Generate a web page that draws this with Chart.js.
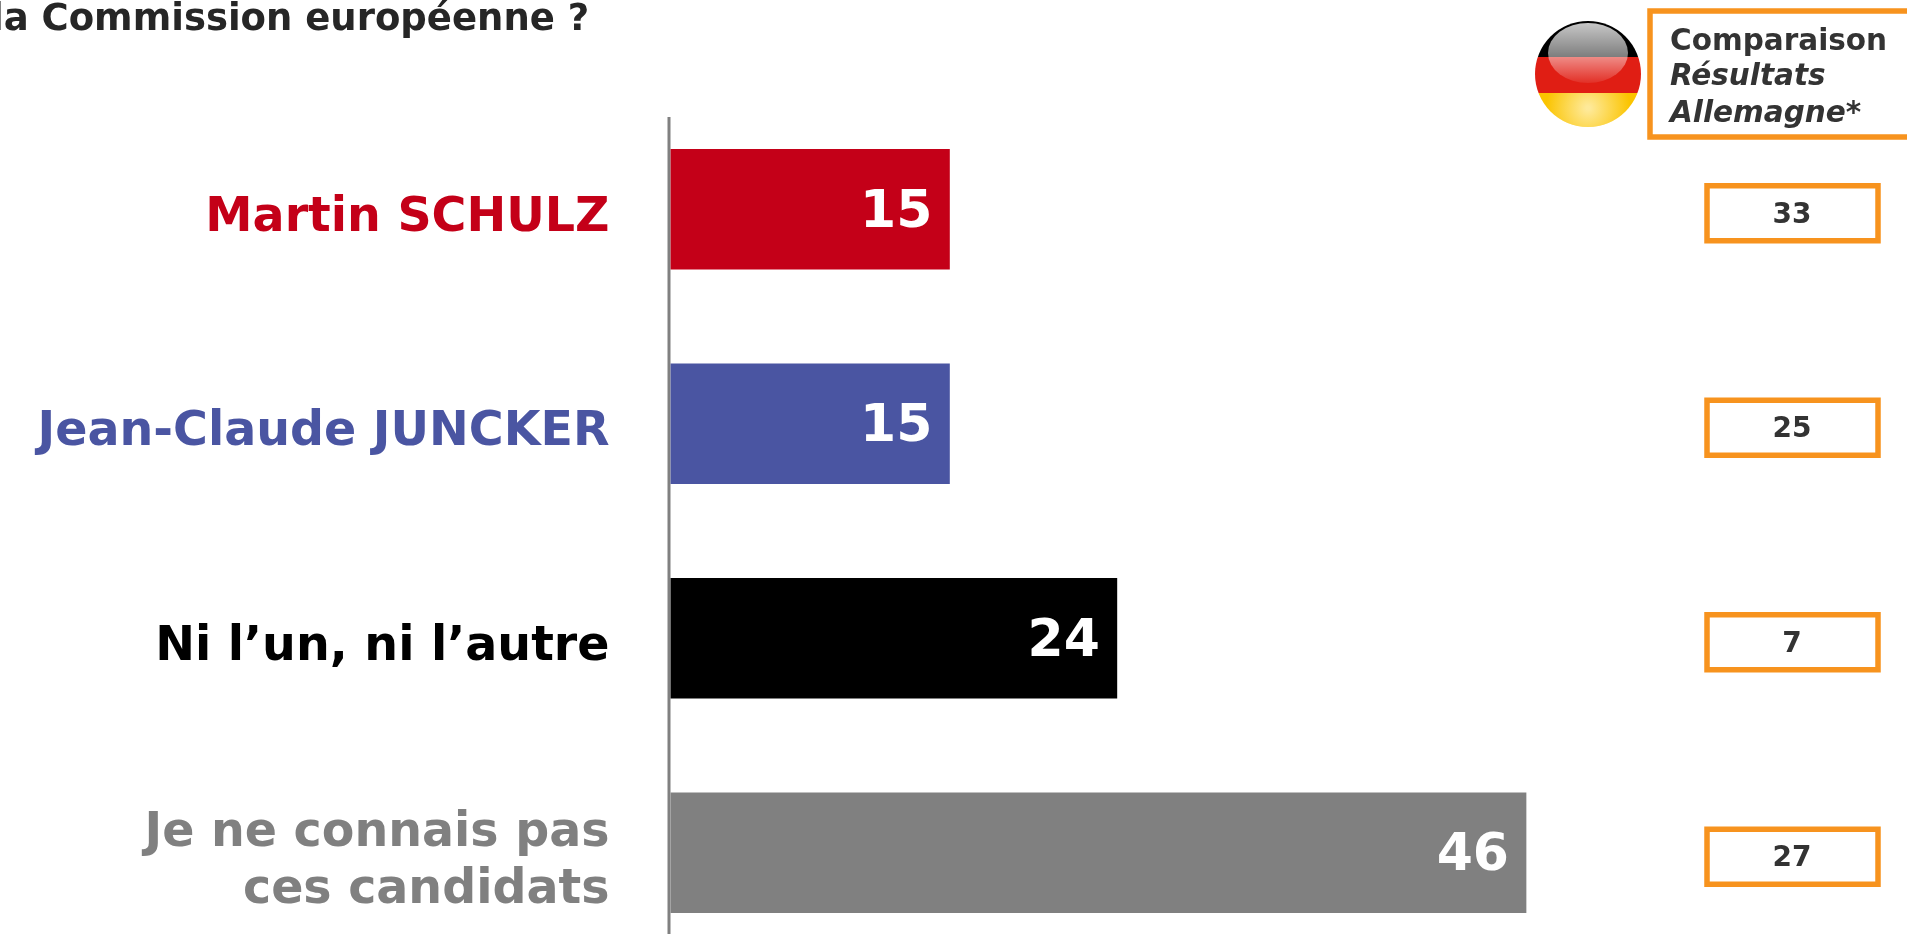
<!DOCTYPE html>
<html lang="fr">
<head>
<meta charset="utf-8">
<title>Commission européenne</title>
<script src="https://cdn.jsdelivr.net/npm/chart.js@4/dist/chart.umd.min.js"></script>
<style>
    html, body { margin: 0; padding: 0; background: #fff; overflow: hidden; }
    canvas { display: block; }
</style>
</head>
<body>
<canvas id="myChart" width="1907" height="960"></canvas>
<script>
const categories = ['Martin SCHULZ', 'Jean-Claude JUNCKER', 'Ni l’un, ni l’autre', ['Je ne connais pas', 'ces candidats']];
const values = [15, 15, 24, 46];
const germanyValues = [33, 25, 7, 27];
const barColors = ['#C40018', '#4A55A2', '#000000', '#808080'];
const headerLines = ['Comparaison', 'Résultats', 'Allemagne*'];
const titleText = 'la Commission européenne ?';

const fontName = '"DejaVu Sans", Verdana, sans-serif';
const orange = '#F7931E';

// grey line left of the bars, runs off the bottom of the page
const axisLine = {
    id: 'axisLine',
    beforeDatasetsDraw(chart) {
        let ctx = chart.ctx;
        let x = chart.scales.x.getPixelForValue(0);
        ctx.save();
        ctx.strokeStyle = '#808080';
        ctx.lineWidth = 3;
        ctx.beginPath();
        ctx.moveTo(x - 1.5, 117);
        ctx.lineTo(x - 1.5, 934);
        ctx.stroke();
        ctx.restore();
    }
};

// white numbers inside the end of each bar
const barValues = {
    id: 'barValues',
    afterDatasetsDraw(chart) {
        let ctx = chart.ctx;
        ctx.save();
        ctx.fillStyle = '#fff';
        ctx.font = 'bold 52px ' + fontName;
        ctx.textAlign = 'right';
        ctx.textBaseline = 'middle';
        chart.getDatasetMeta(0).data.forEach(function(bar, i) {
            ctx.fillText(values[i], bar.x - 17, bar.y + 4);
        });
        ctx.restore();
    }
};

// orange boxes on the right with the German results
const sideBoxes = {
    id: 'sideBoxes',
    afterDraw(chart) {
        let ctx = chart.ctx;
        ctx.save();
        ctx.strokeStyle = orange;
        ctx.lineWidth = 5.5;
        ctx.fillStyle = '#333';
        ctx.font = 'bold 28px ' + fontName;
        ctx.textAlign = 'center';
        ctx.textBaseline = 'middle';
        germanyValues.forEach(function(v, i) {
            let y = chart.scales.y.getPixelForValue(i) + 4;
            ctx.strokeRect(1707, y - 27.5, 171, 55);
            ctx.fillText(v, 1792, y + 2);
        });

        // header box, its right side is outside the page
        ctx.strokeRect(1650, 11, 270, 126);
        ctx.textAlign = 'left';
        ctx.textBaseline = 'alphabetic';
        ctx.font = 'bold 29.5px ' + fontName;
        ctx.fillText(headerLines[0], 1670, 50);
        ctx.font = 'italic bold 29.5px ' + fontName;
        ctx.fillText(headerLines[1], 1670, 85);
        ctx.fillText(headerLines[2], 1670, 122);

        // title is cut by the left edge
        ctx.fillStyle = '#262626';
        ctx.font = 'bold 37px ' + fontName;
        ctx.fillText(titleText, -9, 30);
        ctx.restore();
    }
};

// round german flag
const flag = {
    id: 'flag',
    afterDraw(chart) {
        let ctx = chart.ctx;
        let cx = 1588, cy = 74, r = 53;
        ctx.save();
        ctx.beginPath();
        ctx.arc(cx, cy, r, 0, Math.PI * 2);
        ctx.clip();
        ctx.fillStyle = '#000';
        ctx.fillRect(cx - r, cy - r, r * 2, 36);
        ctx.fillStyle = '#E01E14';
        ctx.fillRect(cx - r, cy - r + 36, r * 2, 36);
        ctx.fillStyle = '#FBC400';
        ctx.fillRect(cx - r, cy - r + 72, r * 2, 34);

        // lower glow
        let glow = ctx.createRadialGradient(cx, cy + 34, 2, cx, cy + 34, 42);
        glow.addColorStop(0, 'rgba(255,240,180,0.85)');
        glow.addColorStop(1, 'rgba(255,240,180,0)');
        ctx.fillStyle = glow;
        ctx.fillRect(cx - r, cy + 19, r * 2, 34);

        // gloss on top
        let gloss = ctx.createLinearGradient(0, cy - 51, 0, cy + 9);
        gloss.addColorStop(0, 'rgba(255,255,255,0.78)');
        gloss.addColorStop(0.55, 'rgba(255,255,255,0.5)');
        gloss.addColorStop(1, 'rgba(255,255,255,0.08)');
        ctx.fillStyle = gloss;
        ctx.beginPath();
        ctx.ellipse(cx, cy - 21, 40, 30, 0, 0, Math.PI * 2);
        ctx.fill();
        ctx.restore();
    }
};

let ctx = document.getElementById('myChart').getContext('2d');

let myChart = new Chart(ctx, {
    type: 'bar',
    data: {
        labels: categories,
        datasets: [{
            data: values,
            backgroundColor: barColors,
            borderWidth: 0,
            barThickness: 120
        }]
    },
    options: {
        indexAxis: 'y',
        responsive: false,
        animation: false,
        layout: { padding: { top: 102, right: 9, bottom: 0, left: 0 } },
        plugins: {
            legend: { display: false },
            tooltip: { enabled: false }
        },
        scales: {
            x: { display: false, min: 0, max: 66 },
            y: {
                afterFit: function(scale) {
                    scale.width = 670.5;
                    // labels must not shrink the plot area
                    scale.paddingTop = 0;
                    scale.paddingBottom = 0;
                },
                grid: { display: false, drawTicks: false },
                border: { display: false },
                ticks: {
                    padding: 61,
                    labelOffset: 9,
                    autoSkip: false,
                    font: { family: fontName, weight: 'bold', size: 47.5, lineHeight: 1.2 },
                    color: function(c) { return barColors[c.index]; }
                }
            }
        }
    },
    plugins: [axisLine, barValues, sideBoxes, flag]
});
</script>
</body>
</html>
